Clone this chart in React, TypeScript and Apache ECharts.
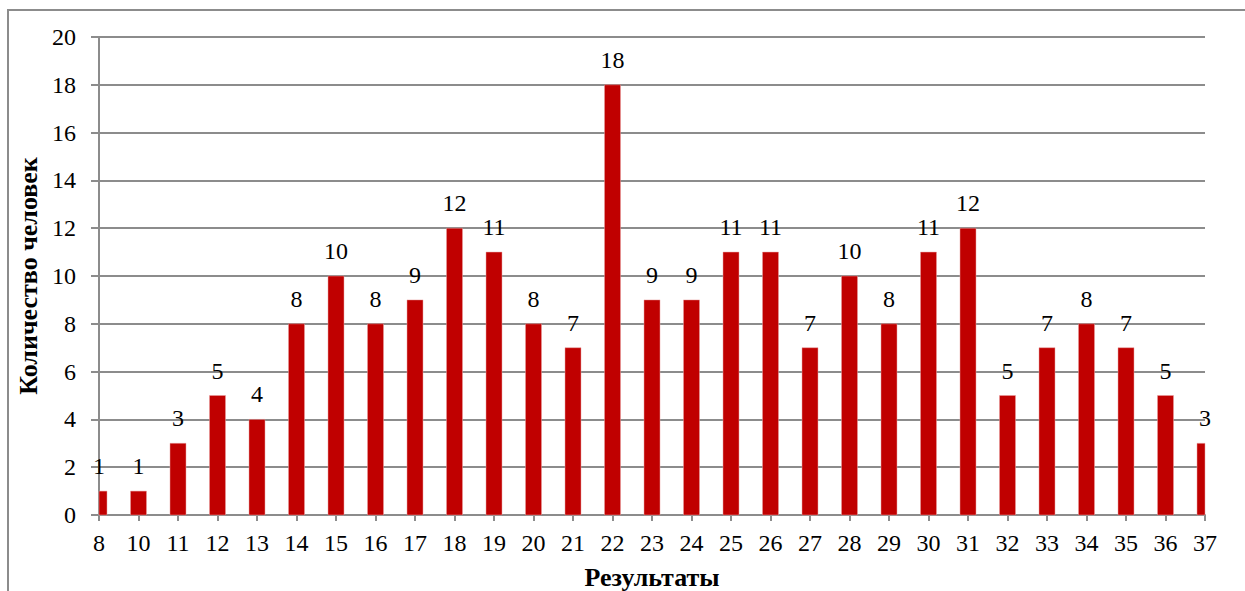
import React, { useEffect, useRef } from "react";
import * as echarts from "echarts";

const categories = ["8","10","11","12","13","14","15","16","17","18","19","20","21","22","23","24","25","26","27","28","29","30","31","32","33","34","35","36","37"];
const counts = [1,1,3,5,4,8,10,8,9,12,11,8,7,18,9,9,11,11,7,10,8,11,12,5,7,8,7,5,3];
const yTicks = { min: 0, max: 20, interval: 2 };
const xName = "Результаты";
const yName = "Количество человек";

export default function App() {
  const ref = useRef<HTMLDivElement>(null);
  useEffect(() => {
    if (!ref.current) return;
    const chart = echarts.init(ref.current, null, { renderer: "svg" });
    const font = "Liberation Serif";
    const data = categories.map((c, i) => [i, counts[i]]);
    chart.setOption({
      animation: false,
      backgroundColor: "#ffffff",
      textStyle: { fontFamily: font },
      graphic: [
        {
          type: "rect",
          shape: { x: 8, y: 10, width: 1400, height: 700 },
          style: { fill: "none", stroke: "#8c8c8c", lineWidth: 2 },
          silent: true,
        },
      ],
      grid: { left: 99, right: 40, top: 37, bottom: 76, containLabel: false, outerBoundsMode: "none" },
      xAxis: {
        type: "category",
        data: categories,
        boundaryGap: false,
        name: xName,
        nameLocation: "middle",
        nameGap: 49,
        nameTextStyle: { fontFamily: font, fontSize: 26, fontWeight: "bold", color: "#000" },
        axisLine: { lineStyle: { color: "#8c8c8c", width: 2 } },
        axisTick: { show: true, length: 6, lineStyle: { color: "#8c8c8c", width: 2 } },
        axisLabel: { fontFamily: font, fontSize: 24, color: "#000", margin: 16, interval: 0 },
        splitLine: { show: false },
      },
      yAxis: {
        type: "value",
        min: yTicks.min,
        max: yTicks.max,
        interval: yTicks.interval,
        name: yName,
        nameLocation: "middle",
        nameGap: 57,
        nameRotate: 90,
        nameTextStyle: { fontFamily: font, fontSize: 26, fontWeight: "bold", color: "#000" },
        axisLine: { show: true, lineStyle: { color: "#8c8c8c", width: 2 } },
        axisTick: { show: true, length: 8, lineStyle: { color: "#8c8c8c", width: 2 } },
        axisLabel: { fontFamily: font, fontSize: 24, color: "#000", margin: 23 },
        splitLine: { show: true, lineStyle: { color: "#8c8c8c", width: 2 } },
      },
      series: [
        {
          type: "custom",
          data,
          clip: false,
          z: 3,
          renderItem: (params: any, api: any) => {
            const idx = api.value(0);
            const v = api.value(1);
            const base = api.coord([idx, 0]);
            const top = api.coord([idx, v]);
            const w = 16;
            const rect = echarts.graphic.clipRectByRect(
              { x: top[0] - w / 2, y: top[1], width: w, height: base[1] - top[1] },
              {
                x: params.coordSys.x,
                y: params.coordSys.y,
                width: params.coordSys.width,
                height: params.coordSys.height,
              }
            );
            const children: any[] = [];
            if (rect) {
              children.push({
                type: "rect",
                shape: rect,
                style: { fill: "#c00000", stroke: "#e8a0a0", lineWidth: 0.5 },
              });
            }
            children.push({
              type: "text",
              x: top[0],
              y: top[1] - 13,
              style: {
                text: String(v),
                fill: "#000",
                fontFamily: font,
                fontSize: 24,
                align: "center",
                verticalAlign: "bottom",
              },
            });
            return { type: "group", children };
          },
        },
      ],
    });
    return () => chart.dispose();
  }, []);
  return <div ref={ref} style={{ position: "fixed", left: 0, top: 0, width: 1245, height: 591 }} />;
}
